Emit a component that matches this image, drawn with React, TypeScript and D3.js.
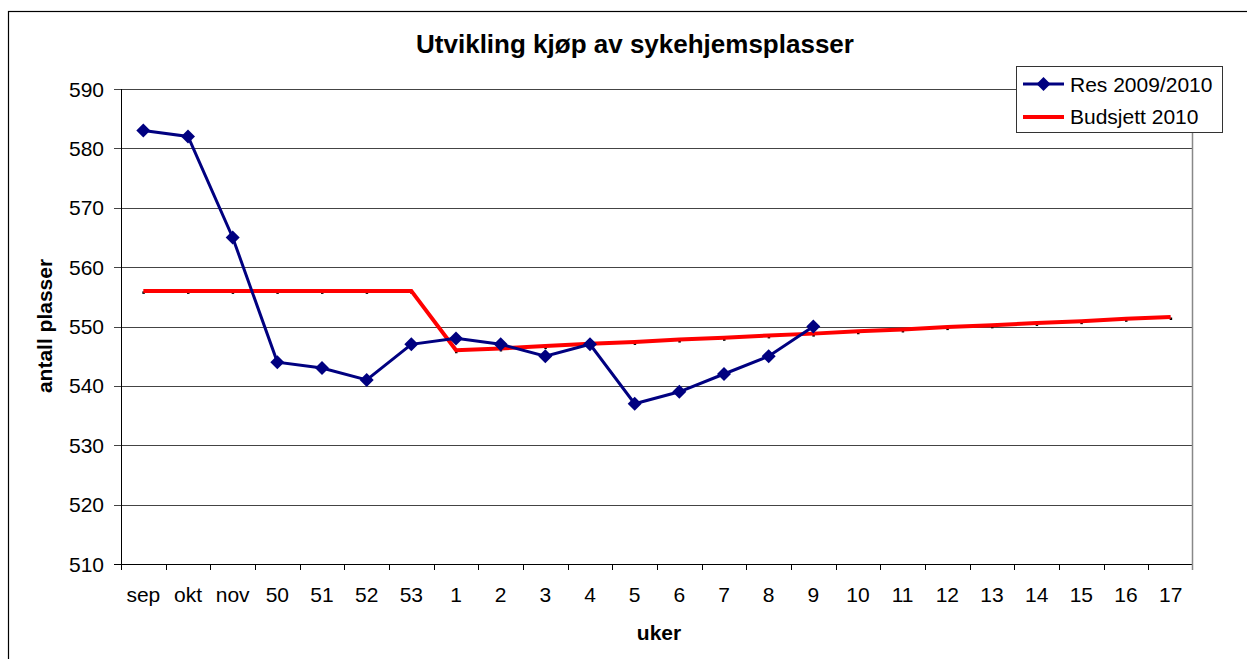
import React from "react";
import * as d3 from "d3";

const categories = ["sep","okt","nov","50","51","52","53","1","2","3","4","5","6","7","8","9","10","11","12","13","14","15","16","17"];
const resValues = [583, 582, 565, 544, 543, 541, 547, 548, 547, 545, 547, 537, 539, 542, 545, 550];
const budgetValues = [556, 556, 556, 556, 556, 556, 556, 546, 546.3, 546.7, 547.1, 547.4, 547.8, 548.1, 548.5, 548.8, 549.2, 549.5, 549.9, 550.2, 550.6, 550.9, 551.3, 551.6];
const yTicks = [510, 520, 530, 540, 550, 560, 570, 580, 590];

const W = 1247, H = 659;
const left = 121, right = 1193, top = 89, bottom = 564;
const font = "Arial, 'Liberation Sans', sans-serif";

export default function App() {
  const x = d3.scaleBand<string>().domain(categories).range([left, right]).paddingInner(0).paddingOuter(0);
  const y = d3.scaleLinear().domain([510, 590]).range([bottom, top]);
  const cx = (i: number) => (x(categories[i]) as number) + x.bandwidth() / 2;
  const line = d3.line<number>().x((_, i) => cx(i)).y((d) => y(d));
  const diamond = (px: number, py: number, r = 7) => `M${px},${py - r}L${px + r},${py}L${px},${py + r}L${px - r},${py}Z`;

  return (
    <svg width={W} height={H} style={{ position: "absolute", left: 0, top: 0, display: "block" }}>
      <rect x={0} y={0} width={W} height={H} fill="#fff" />
      <rect x={8.5} y={11.5} width={W + 20} height={H + 20} fill="none" stroke="#000" strokeWidth={1.2} />
      <text x={635} y={53} textAnchor="middle" fontFamily={font} fontWeight="bold" fontSize={26}>Utvikling kjøp av sykehjemsplasser</text>

      {yTicks.map((t) => (
        <g key={t}>
          <line x1={left - 7} x2={right} y1={Math.round(y(t)) + 0.5} y2={Math.round(y(t)) + 0.5} stroke={t === 510 ? "#000" : "#444"} strokeWidth={1} />
          <text x={104} y={y(t) + 7.5} textAnchor="end" fontFamily={font} fontSize={21}>{t}</text>
        </g>
      ))}
      <line x1={left + 0.5} x2={left + 0.5} y1={top} y2={bottom} stroke="#000" />
      <line x1={right - 0.5} x2={right - 0.5} y1={top} y2={bottom + 6} stroke="#888" strokeWidth={1.5} />
      {categories.map((c, i) => (
        <g key={c}>
          <line x1={Math.round(x(c) as number) + 0.5} x2={Math.round(x(c) as number) + 0.5} y1={bottom} y2={bottom + 6} stroke="#000" />
          <text x={cx(i)} y={602} textAnchor="middle" fontFamily={font} fontSize={21}>{c}</text>
        </g>
      ))}
      <text x={659} y={640} textAnchor="middle" fontFamily={font} fontWeight="bold" fontSize={21}>uker</text>
      <text transform={`translate(52,326) rotate(-90)`} textAnchor="middle" fontFamily={font} fontWeight="bold" fontSize={21}>antall plasser</text>

      {budgetValues.map((v, i) => (
        <rect key={i} x={cx(i) - 1} y={y(v) + 0.5} width={2.5} height={2.5} fill="#000" />
      ))}
      <path d={line(budgetValues) as string} fill="none" stroke="#ff0000" strokeWidth={4} strokeLinejoin="miter" />

      <path d={line(resValues) as string} fill="none" stroke="#000080" strokeWidth={3} />
      {resValues.map((v, i) => (
        <path key={i} d={diamond(cx(i), y(v))} fill="#000080" />
      ))}

      <rect x={1016.5} y={66.5} width={206} height={66} fill="#fff" stroke="#333" strokeWidth={1} />
      <line x1={1023} x2={1064} y1={84} y2={84} stroke="#000080" strokeWidth={3} />
      <path d={diamond(1043.5, 84)} fill="#000080" />
      <text x={1070} y={92} fontFamily={font} fontSize={21}>Res 2009/2010</text>
      <line x1={1023} x2={1064} y1={117} y2={117} stroke="#ff0000" strokeWidth={4} />
      <text x={1070} y={124} fontFamily={font} fontSize={21}>Budsjett 2010</text>
    </svg>
  );
}
